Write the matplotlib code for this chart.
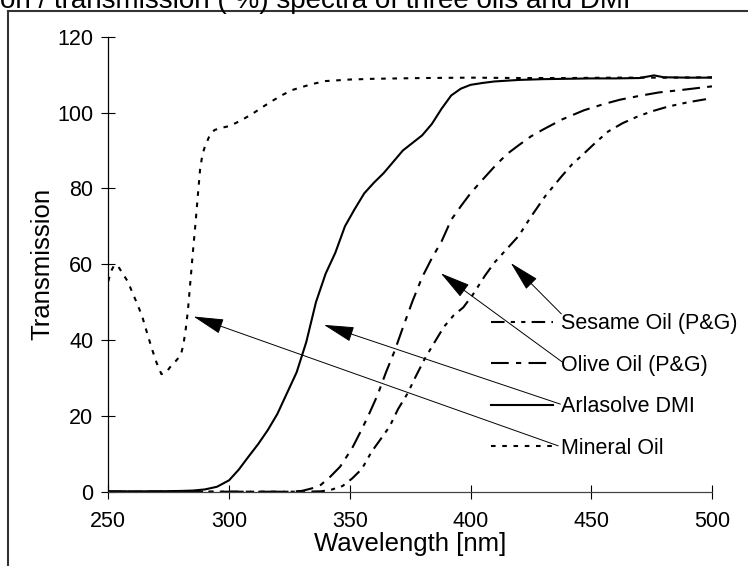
import numpy as np
import matplotlib
matplotlib.use("Agg")
import matplotlib.pyplot as plt
from matplotlib.lines import Line2D

plt.rcParams['font.family'] = ['Liberation Sans', 'DejaVu Sans']

# Mineral oil (dotted)
wl_mineral = [250, 251, 252.5, 254, 256, 258, 260, 262, 264, 266, 268, 270, 272, 274, 276,
              278, 280, 281, 282, 283, 284, 285, 286, 287, 288, 289, 290, 292, 294, 297,
              300, 303, 306, 310, 314, 318, 322, 326, 330, 335, 340, 350, 360, 380, 400,
              420, 440, 460, 480, 500]
t_mineral = [55.5, 58, 59.8, 59.5, 57.5, 55.5, 52.5, 49.5, 46.3, 42, 37.8, 34, 31, 31.5, 33.2,
             34.5, 36, 38.5, 42.5, 48, 55.5, 63, 70, 77.5, 85, 89, 91, 94, 95.4, 96,
             96.4, 97.3, 98.3, 99.8, 101.5, 103.1, 104.6, 105.9, 106.7, 107.6, 108.3, 108.7, 108.9, 109.1, 109.2,
             109.1, 109.1, 109.2, 109.2, 109.3]

# Arlasolve DMI (solid)
wl_dmi = [250, 260, 270, 280, 285, 290, 295, 300, 304, 308, 312, 316, 320, 324, 328, 332,
          336, 340, 344, 348, 352, 356, 360, 364, 368, 372, 376, 380, 384, 388, 392, 396,
          400, 405, 410, 420, 430, 440, 450, 460, 470, 476, 480, 490, 500]
t_dmi = [0.1, 0.1, 0.1, 0.2, 0.3, 0.6, 1.3, 3, 5.8, 9.2, 12.5, 16.2, 20.5, 26, 31.5, 39.5,
         50, 57.5, 63, 70, 74.5, 78.7, 81.5, 84, 87, 90, 92, 94, 97, 101, 104.5, 106.3,
         107.3, 107.8, 108.2, 108.6, 108.8, 108.9, 109, 109, 109.1, 109.8, 109.3, 109.2, 109.2]

# Olive oil (P&G) (dash-dot)
wl_olive = [250, 270, 290, 310, 325, 330, 332, 335, 338, 342, 346, 351, 355, 358, 361.5,
            365, 368.5, 372, 376, 380, 384, 388, 392, 396, 400, 405, 410, 415, 420, 425,
            430, 438, 447, 455, 462, 470, 478, 488, 500]
t_olive = [0, 0, 0, 0, 0, 0.2, 0.5, 1.0, 1.8, 4, 6.6, 11.5, 16.5, 20.5, 25.5,
           31.5, 37, 43.3, 50.3, 56.6, 61.6, 66, 71.7, 75.3, 78.7, 82.3, 85.8, 89, 91.4, 93.7,
           95.5, 98.2, 100.6, 102.2, 103.4, 104.4, 105.3, 106, 106.9]

# Sesame oil (P&G) (dash-dot-dot)
wl_sesame = [250, 270, 290, 310, 330, 338, 342, 347, 351, 355, 359, 363.5, 366.5, 370, 374,
             377, 381, 385, 389, 393, 397, 401, 406, 410, 414, 420, 425, 431, 437.5, 442,
             447, 452, 457, 463, 469, 475, 482, 490, 500]
t_sesame = [0, 0, 0, 0, 0, 0.1, 0.45, 1.5, 3.5, 6, 10.5, 14.5, 17.2, 21.8, 26,
            30, 35, 39.3, 43.5, 46.5, 48.6, 52, 57, 60.5, 63.3, 67.5, 72.5, 78, 83, 86.3,
            89.2, 92.2, 95, 97.2, 98.9, 100.3, 101.6, 102.7, 103.8]

labels = ["Sesame Oil (P&G)", "Olive Oil (P&G)", "Arlasolve DMI", "Mineral Oil"]
x_ticks = [250, 300, 350, 400, 450, 500]
y_ticks = [0, 20, 40, 60, 80, 100, 120]

# arrow (tip, tail) in data units, legend label -> curve
arrow_tips = [(416.7, 60.3), (387.7, 57.6), (339.3, 44.0), (285.3, 46.2)]
arrow_tails = [(437.6, 46.9), (438.0, 34.2), (437.2, 23.1), (436.3, 12.1)]

W, H = 748, 566
fig = plt.figure(figsize=(W / 100, H / 100), dpi=100)
ax = fig.add_axes([108.3 / W, 1 - 491.7 / H, (712 - 108.3) / W, (491.7 - 36.7) / H])

lw = 1.5
h_ses, = ax.plot(wl_sesame, t_sesame, color='black', lw=lw,
                 linestyle=(0, (6.5, 3, 2, 3, 2, 3)), label=labels[0])
h_oli, = ax.plot(wl_olive, t_olive, color='black', lw=lw,
                 linestyle=(0, (8.5, 3.5, 2.5, 3.5)), label=labels[1])
h_dmi, = ax.plot(wl_dmi, t_dmi, color='black', lw=lw, label=labels[2])
h_min, = ax.plot(wl_mineral, t_mineral, color='black', lw=lw,
                 linestyle=(0, (2.2, 3.2)), label=labels[3])

ax.set_xlim(250, 500)
ax.set_ylim(0, 120)
ax.set_xticks(x_ticks)
ax.set_yticks(y_ticks)
ax.tick_params(direction='inout', length=9.4, width=0.8, labelsize=15.5)
ax.tick_params(axis='x', pad=9)
ax.tick_params(axis='y', pad=6)
for s in ['top', 'right']:
    ax.spines[s].set_visible(False)
ax.spines['left'].set_linewidth(0.9)
ax.spines['bottom'].set_linewidth(0.9)
ax.spines['bottom'].set_color('#444444')

ax.set_xlabel("Wavelength [nm]", fontsize=18.5, labelpad=0)
ax.set_ylabel("Transmission", fontsize=18.5, labelpad=2)

leg = ax.legend(handles=[h_ses, h_oli, h_dmi, h_min], loc='upper left',
                bbox_to_anchor=(491 / W, 1 - 313.5 / H), bbox_transform=fig.transFigure,
                frameon=False, fontsize=15.5, handlelength=2.9, handletextpad=0.35,
                labelspacing=0.95, borderpad=0, borderaxespad=0)

for tip, tail in zip(arrow_tips, arrow_tails):
    ax.annotate("", xy=tip, xytext=tail,
                arrowprops=dict(arrowstyle='-|>,head_length=0.8,head_width=0.2',
                                mutation_scale=24, lw=0.7, color='black',
                                shrinkA=0, shrinkB=0))

# outer chart-area frame (left and top edges visible)
fig.add_artist(Line2D([8 / W, 8 / W], [0, 1 - 11 / H], color='#333333', lw=1.5))
fig.add_artist(Line2D([8 / W, 1], [1 - 11 / H, 1 - 11 / H], color='#333333', lw=1.5))

# chart title, cut off at the top of the picture
fig.text(0, 1 - 8 / H, "on / transmission ( %) spectra of three oils and DMI",
         ha='left', va='baseline', fontsize=20)

fig.savefig("out.png", dpi=100)
